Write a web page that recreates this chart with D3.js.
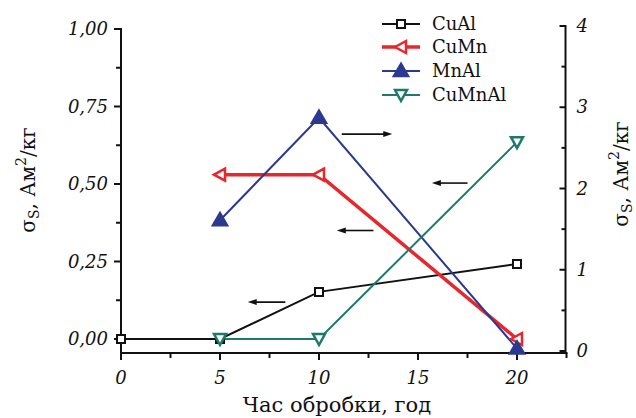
<!DOCTYPE html>
<html>
<head>
<meta charset="utf-8">
<script src="https://cdn.jsdelivr.net/npm/d3@7"></script>
<style>
  html, body { margin: 0; padding: 0; background: #fff; }
  svg { display: block; }
  text { font-family: "DejaVu Serif", "Liberation Serif", serif; fill: #111; }
</style>
</head>
<body>
<svg id="chart" width="636" height="418"></svg>
<script>
// Treatment time, hours
const hours = [0, 5, 10, 20];

// Specific magnetisation, A·m²/kg
const cuAlX = [0, 5, 10, 20];
const cuAlY = [0, 0, 0.152, 0.242];       // left axis
const cuMnX = [5, 10, 20];
const cuMnY = [0.53, 0.53, 0.0];          // left axis
const mnAlX = [5, 10, 20];
const mnAlY = [1.61, 2.87, 0.03];         // right axis
const cuMnAlX = [5, 10, 20];
const cuMnAlY = [0.0, 0.0, 0.635];        // left axis

const seriesNames = ["CuAl", "CuMn", "MnAl", "CuMnAl"];
const xTicks = [0, 5, 10, 15, 20];
const leftTicks = [0, 0.25, 0.5, 0.75, 1.0];
const rightTicks = [0, 1, 2, 3, 4];

// Arrows marking which axis a curve belongs to: tail x, head x, height on left axis
const arrowX0 = [11.15, 17.5, 12.75, 8.3];
const arrowX1 = [13.7, 15.7, 10.9, 6.4];
const arrowY = [0.661, 0.503, 0.35, 0.119];

const svg = d3.select("#chart");

const x = d3.scaleLinear().domain([0, 22.5]).range([121, 566.5]);
const yL = d3.scaleLinear().domain([0, 1]).range([339, 29]);
const yR = d3.scaleLinear().domain([0, 4]).range([351, 26]);
const plotBottom = 353;

const fmtComma = d => d3.format(".2f")(d).replace(".", ",");

// Bottom axis
const xAxis = svg.append("g").attr("transform", `translate(0,${plotBottom})`);
xAxis.append("line").attr("x1", x(0) - 1).attr("x2", x(22.5) + 1)
  .attr("stroke", "#111").attr("stroke-width", 2);
xAxis.selectAll("line.minor").data(d3.range(0, 22.6, 2.5)).enter().append("line")
  .attr("x1", d => x(d)).attr("x2", d => x(d)).attr("y1", 0)
  .attr("y2", d => xTicks.includes(d) ? 7 : 5)
  .attr("stroke", "#111").attr("stroke-width", 2);
xAxis.selectAll("text").data(xTicks).enter().append("text")
  .attr("x", d => x(d)).attr("y", 31).attr("text-anchor", "middle")
  .attr("font-style", "italic").attr("font-size", 18).text(d => d);

// Left axis
const lAxis = svg.append("g");
lAxis.append("line").attr("x1", x(0)).attr("x2", x(0))
  .attr("y1", yL(1) - 1).attr("y2", plotBottom + 1)
  .attr("stroke", "#111").attr("stroke-width", 2);
lAxis.selectAll("line.t").data(d3.range(0, 1.01, 0.125)).enter().append("line")
  .attr("x1", x(0)).attr("x2", (d, i) => x(0) - (i % 2 === 0 ? 7 : 5))
  .attr("y1", d => yL(d)).attr("y2", d => yL(d))
  .attr("stroke", "#111").attr("stroke-width", 2);
lAxis.selectAll("text").data(leftTicks).enter().append("text")
  .attr("x", x(0) - 13).attr("y", d => yL(d) + 6).attr("text-anchor", "end")
  .attr("font-style", "italic").attr("font-size", 18).text(fmtComma);

// Right axis
const rAxis = svg.append("g");
const rx = x(22.5) - 1;
rAxis.append("line").attr("x1", rx).attr("x2", rx)
  .attr("y1", yR(4) - 1).attr("y2", plotBottom + 1)
  .attr("stroke", "#111").attr("stroke-width", 2);
rAxis.selectAll("line.t").data(d3.range(0, 4.01, 0.5)).enter().append("line")
  .attr("x1", rx).attr("x2", (d, i) => rx - (i % 2 === 0 ? 6 : 4))
  .attr("y1", d => yR(d)).attr("y2", d => yR(d))
  .attr("stroke", "#111").attr("stroke-width", 2);
rAxis.selectAll("text").data(rightTicks).enter().append("text")
  .attr("x", rx + 11).attr("y", d => yR(d) + 6).attr("text-anchor", "start")
  .attr("font-style", "italic").attr("font-size", 18).text(d => d);

// Axis titles
function sigmaTitle(g) {
  const t = g.append("text").attr("font-size", 20).attr("text-anchor", "middle");
  t.append("tspan").text("σ");
  t.append("tspan").attr("font-size", 14).attr("dy", 4).text("S");
  t.append("tspan").attr("dy", -4).text(", Ам");
  t.append("tspan").attr("font-size", 14).attr("dy", -9).text("2");
  t.append("tspan").attr("dy", 9).text("/кг");
  return t;
}
sigmaTitle(svg.append("g").attr("transform", "translate(35,180) rotate(-90)"));
sigmaTitle(svg.append("g").attr("transform", "translate(628,174) rotate(-90)"));

svg.append("text").attr("x", 337).attr("y", 412).attr("text-anchor", "middle")
  .attr("font-size", 21).text("Час обробки, год");

// Series
const series = [
  { name: "CuAl", xs: cuAlX, ys: cuAlY, y: yL, color: "#111111", width: 2, marker: "square" },
  { name: "CuMn", xs: cuMnX, ys: cuMnY, y: yL, color: "#e8262b", width: 3.5, marker: "left" },
  { name: "MnAl", xs: mnAlX, ys: mnAlY, y: yR, color: "#2b3990", width: 2, marker: "up" },
  { name: "CuMnAl", xs: cuMnAlX, ys: cuMnAlY, y: yL, color: "#1d7a6a", width: 2, marker: "down" }
];

function markerPath(type) {
  switch (type) {
    case "square": return "M-4,-4H4V4H-4Z";
    case "left": return "M-6,0L5,-6L5,6Z";
    case "up": return "M0,-7L7,5L-7,5Z";
    case "down": return "M-6,-5L6,-5L0,6Z";
  }
}

function drawMarker(g, type, color, cx, cy) {
  const filled = type === "up";
  g.append("path").attr("d", markerPath(type))
    .attr("transform", `translate(${cx},${cy})`)
    .attr("fill", filled ? color : "#fff")
    .attr("stroke", color)
    .attr("stroke-width", type === "square" ? 2 : 2.5)
    .attr("stroke-linejoin", "miter");
}

const plot = svg.append("g");
series.forEach(s => {
  const pts = s.xs.map((d, i) => [x(d), s.y(s.ys[i])]);
  plot.append("path").attr("d", d3.line()(pts))
    .attr("fill", "none").attr("stroke", s.color).attr("stroke-width", s.width);
});
series.forEach(s => {
  s.xs.forEach((d, i) => drawMarker(plot, s.marker, s.color, x(d), s.y(s.ys[i])));
});

// Axis-reference arrows
const arrows = svg.append("g");
arrowX0.forEach((x0, i) => {
  const a = x(x0), b = x(arrowX1[i]), yy = yL(arrowY[i]);
  const dir = b > a ? 1 : -1;
  arrows.append("line").attr("x1", a).attr("x2", b - dir * 6).attr("y1", yy).attr("y2", yy)
    .attr("stroke", "#111").attr("stroke-width", 1.6);
  arrows.append("path")
    .attr("d", `M${b},${yy}L${b - dir * 9},${yy - 3}L${b - dir * 9},${yy + 3}Z`)
    .attr("fill", "#111");
});

// Legend
const legend = svg.append("g");
const legY = [24, 47, 71, 95];
series.forEach((s, i) => {
  const yy = legY[i];
  legend.append("line").attr("x1", 382).attr("x2", 420).attr("y1", yy).attr("y2", yy)
    .attr("stroke", s.color).attr("stroke-width", s.width);
  drawMarker(legend, s.marker, s.color, 401, yy);
  legend.append("text").attr("x", 432).attr("y", yy + 6).attr("font-size", 18).text(seriesNames[i]);
});
</script>
</body>
</html>
